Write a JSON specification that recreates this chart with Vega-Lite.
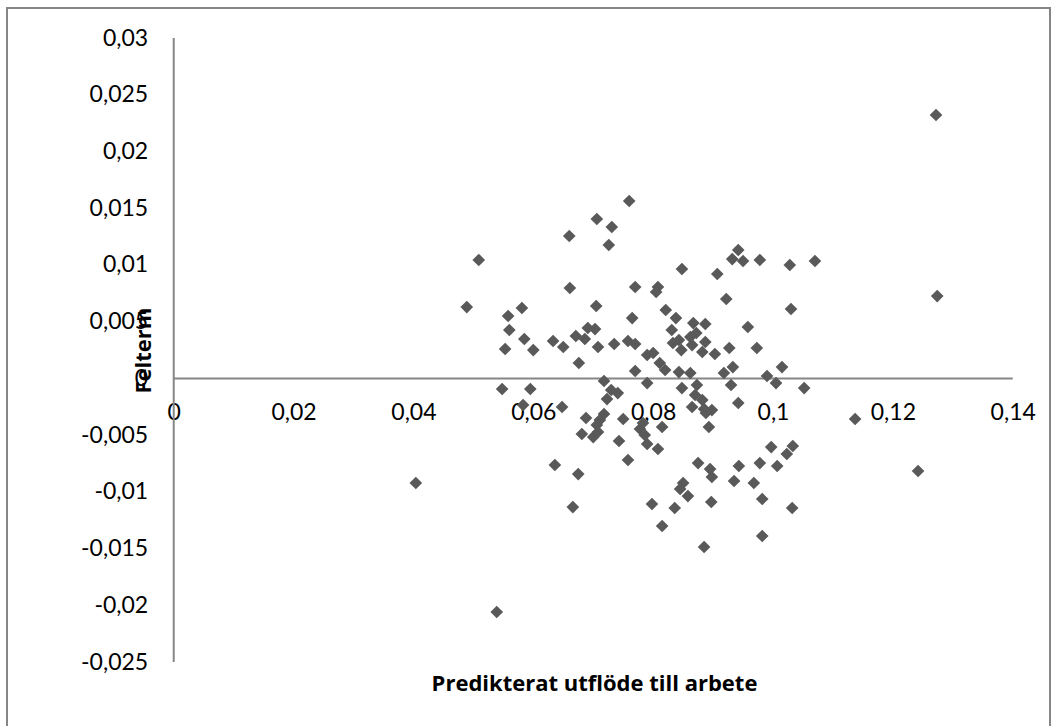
{
  "$schema": "https://vega.github.io/schema/vega-lite/v6.json",
  "autosize": {"type": "none"},
  "padding": {"left": 7, "top": 8, "right": 7, "bottom": 0},
  "width": 1043,
  "height": 722,
  "background": "white",
  "config": {
    "view": {"stroke": "#868686", "strokeWidth": 2},
    "locale": {"number": {"decimal": ",", "thousands": " ", "grouping": [3], "currency": ["", ""], "minus": "-"}},
    "font": "Lato"
  },
  "encoding": {
    "x": {
      "field": "x", "type": "quantitative",
      "scale": {"domain": [-0.02782, 0.14622], "nice": false, "zero": false},
      "axis": {
        "orient": "bottom", "offset": -351.6, "domain": false, "ticks": false, "tickSize": 0, "grid": false,
        "values": [0, 0.02, 0.04, 0.06, 0.08, 0.1, 0.12, 0.14], "format": ".2~f",
        "labelFont": "Lato", "labelFontSize": 23, "labelColor": "#000000", "labelBaseline": "middle", "labelPadding": 34,
        "labelFlush": false, "labelOverlap": false,
        "title": "Predikterat utflöde till arbete", "titleFont": "Open Sans", "titleFontSize": 22, "titleFontWeight": "bold", "titleColor": "#000000",
        "titleX": 587, "titleY": 311.6, "titleBaseline": "alphabetic", "titleAlign": "center", "titleAnchor": null
      }
    },
    "y": {
      "field": "y", "type": "quantitative",
      "scale": {"domain": [-0.03099, 0.03265], "nice": false, "zero": false},
      "axis": {
        "orient": "left", "offset": -166.7, "domain": false, "ticks": false, "tickSize": 0, "grid": false,
        "values": [0.03, 0.025, 0.02, 0.015, 0.01, 0.005, 0, -0.005, -0.01, -0.015, -0.02, -0.025], "format": ".3~f",
        "labelFont": "Lato", "labelFontSize": 23, "labelColor": "#000000", "labelPadding": 26,
        "labelFlush": false, "labelOverlap": false,
        "title": "Felterm", "titleFont": "Open Sans", "titleFontSize": 22, "titleFontWeight": "bold", "titleColor": "#000000",
        "titleX": -23, "titleY": 342, "titleAngle": -90, "titleBaseline": "alphabetic", "titleAlign": "center", "titleAnchor": null
      }
    }
  },
  "layer": [
    {
      "data": {"values": [{"x": 0, "y": -0.025, "y2": 0.03}]},
      "mark": {"type": "rule", "color": "#868686", "strokeWidth": 2},
      "encoding": {"y2": {"field": "y2"}}
    },
    {
      "data": {"values": [{"x": 0, "x2": 0.14, "y": 0}]},
      "mark": {"type": "rule", "color": "#868686", "strokeWidth": 2},
      "encoding": {"x2": {"field": "x2"}}
    },
    {
      "data": {"values": [
        {"x": 0.1272, "y": 0.02322}, {"x": 0.1274, "y": 0.00726}, {"x": 0.1242, "y": -0.00816}, {"x": 0.1137, "y": -0.00358},
        {"x": 0.1052, "y": -0.00085}, {"x": 0.1070, "y": 0.01035}, {"x": 0.1028, "y": 0.01000}, {"x": 0.0978, "y": 0.01044},
        {"x": 0.0950, "y": 0.01035}, {"x": 0.0942, "y": 0.01132}, {"x": 0.0932, "y": 0.01052}, {"x": 0.0907, "y": 0.00920},
        {"x": 0.0848, "y": 0.00964}, {"x": 0.0760, "y": 0.01564}, {"x": 0.0706, "y": 0.01405}, {"x": 0.0731, "y": 0.01335},
        {"x": 0.0660, "y": 0.01255}, {"x": 0.0726, "y": 0.01176}, {"x": 0.0509, "y": 0.01044}, {"x": 0.0661, "y": 0.00797},
        {"x": 0.0770, "y": 0.00806}, {"x": 0.0808, "y": 0.00806}, {"x": 0.0805, "y": 0.00762}, {"x": 0.0922, "y": 0.00700},
        {"x": 0.1030, "y": 0.00612}, {"x": 0.0489, "y": 0.00629}, {"x": 0.0581, "y": 0.00621}, {"x": 0.0705, "y": 0.00638},
        {"x": 0.0558, "y": 0.00550}, {"x": 0.0765, "y": 0.00532}, {"x": 0.0821, "y": 0.00603}, {"x": 0.0838, "y": 0.00532},
        {"x": 0.0560, "y": 0.00427}, {"x": 0.0585, "y": 0.00347}, {"x": 0.0553, "y": 0.00259}, {"x": 0.0600, "y": 0.00250},
        {"x": 0.0633, "y": 0.00330}, {"x": 0.0650, "y": 0.00277}, {"x": 0.0671, "y": 0.00374}, {"x": 0.0691, "y": 0.00444},
        {"x": 0.0703, "y": 0.00435}, {"x": 0.0686, "y": 0.00347}, {"x": 0.0708, "y": 0.00277}, {"x": 0.0735, "y": 0.00303},
        {"x": 0.0758, "y": 0.00330}, {"x": 0.0770, "y": 0.00303}, {"x": 0.0867, "y": 0.00488}, {"x": 0.0887, "y": 0.00480},
        {"x": 0.0831, "y": 0.00427}, {"x": 0.0958, "y": 0.00453}, {"x": 0.0872, "y": 0.00400}, {"x": 0.0862, "y": 0.00365},
        {"x": 0.0843, "y": 0.00338}, {"x": 0.0833, "y": 0.00312}, {"x": 0.0887, "y": 0.00321}, {"x": 0.0865, "y": 0.00294},
        {"x": 0.0847, "y": 0.00250}, {"x": 0.0882, "y": 0.00233}, {"x": 0.0903, "y": 0.00215}, {"x": 0.0927, "y": 0.00268},
        {"x": 0.0973, "y": 0.00268}, {"x": 0.0790, "y": 0.00206}, {"x": 0.0800, "y": 0.00224}, {"x": 0.0811, "y": 0.00136},
        {"x": 0.0820, "y": 0.00074}, {"x": 0.1015, "y": 0.00100}, {"x": 0.0933, "y": 0.00100}, {"x": 0.0676, "y": 0.00136},
        {"x": 0.0770, "y": 0.00065}, {"x": 0.0843, "y": 0.00056}, {"x": 0.0862, "y": 0.00048}, {"x": 0.0918, "y": 0.00048},
        {"x": 0.0990, "y": 0.00021}, {"x": 0.0718, "y": -0.00023}, {"x": 0.0548, "y": -0.00093}, {"x": 0.0595, "y": -0.00093},
        {"x": 0.0730, "y": -0.00102}, {"x": 0.0741, "y": -0.00129}, {"x": 0.0723, "y": -0.00182}, {"x": 0.0583, "y": -0.00234},
        {"x": 0.0648, "y": -0.00252}, {"x": 0.0688, "y": -0.00349}, {"x": 0.0718, "y": -0.00314}, {"x": 0.0711, "y": -0.00367},
        {"x": 0.0706, "y": -0.00411}, {"x": 0.0750, "y": -0.00358}, {"x": 0.0681, "y": -0.00490}, {"x": 0.0700, "y": -0.00517},
        {"x": 0.0708, "y": -0.00472}, {"x": 0.0743, "y": -0.00552}, {"x": 0.0778, "y": -0.00446}, {"x": 0.0758, "y": -0.00719},
        {"x": 0.0636, "y": -0.00763}, {"x": 0.0675, "y": -0.00843}, {"x": 0.0666, "y": -0.01134}, {"x": 0.0790, "y": -0.00041},
        {"x": 0.0848, "y": -0.00085}, {"x": 0.0873, "y": -0.00058}, {"x": 0.0930, "y": -0.00058}, {"x": 0.1005, "y": -0.00041},
        {"x": 0.0870, "y": -0.00146}, {"x": 0.0882, "y": -0.00190}, {"x": 0.0865, "y": -0.00252}, {"x": 0.0885, "y": -0.00270},
        {"x": 0.0898, "y": -0.00279}, {"x": 0.0888, "y": -0.00305}, {"x": 0.0942, "y": -0.00217}, {"x": 0.0783, "y": -0.00393},
        {"x": 0.0815, "y": -0.00428}, {"x": 0.0786, "y": -0.00499}, {"x": 0.0790, "y": -0.00578}, {"x": 0.0808, "y": -0.00622},
        {"x": 0.0893, "y": -0.00428}, {"x": 0.0875, "y": -0.00746}, {"x": 0.0895, "y": -0.00799}, {"x": 0.0898, "y": -0.00869},
        {"x": 0.0943, "y": -0.00772}, {"x": 0.0978, "y": -0.00746}, {"x": 0.0997, "y": -0.00605}, {"x": 0.1033, "y": -0.00596},
        {"x": 0.1023, "y": -0.00666}, {"x": 0.1007, "y": -0.00772}, {"x": 0.0850, "y": -0.00922}, {"x": 0.0845, "y": -0.00975},
        {"x": 0.0858, "y": -0.01037}, {"x": 0.0935, "y": -0.00904}, {"x": 0.0968, "y": -0.00922}, {"x": 0.0982, "y": -0.01063},
        {"x": 0.1032, "y": -0.01142}, {"x": 0.0798, "y": -0.01107}, {"x": 0.0836, "y": -0.01142}, {"x": 0.0897, "y": -0.01089},
        {"x": 0.0815, "y": -0.01301}, {"x": 0.0982, "y": -0.01389}, {"x": 0.0885, "y": -0.01486}, {"x": 0.0404, "y": -0.00922},
        {"x": 0.0539, "y": -0.02059}
      ]},
      "mark": {"type": "point", "shape": "diamond", "filled": true, "color": "#595959", "opacity": 1, "size": 160, "strokeWidth": 0}
    }
  ]
}
